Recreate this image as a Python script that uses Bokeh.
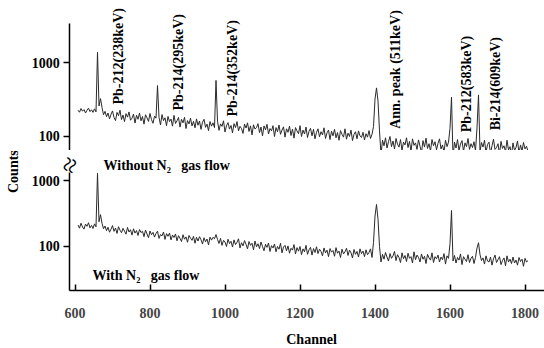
import math
from bokeh.plotting import figure
from bokeh.layouts import column
from bokeh.models import Label, FixedTicker, PrintfTickFormatter, Range1d
from bokeh.embed import file_html
from bokeh.resources import INLINE

# ---------------- data ----------------
channels = list(range(608, 1809, 4))

counts_without_n2 = [
    226, 212, 238, 219, 230, 207, 225, 241, 216, 229,    # 608-644
    211, 236, 214, 1390, 258, 325, 246, 196, 218, 184,   # 648-684
    207, 172, 198, 221, 180, 163, 211, 190, 226, 168,    # 688-724
    194, 158, 203, 182, 214, 165, 176, 200, 151, 193,    # 728-764
    170, 207, 162, 185, 146, 196, 178, 159, 204, 168,    # 768-804
    150, 188, 176, 490, 181, 142, 197, 163, 178, 139,    # 808-844
    186, 158, 171, 137, 192, 149, 162, 180, 133, 170,    # 848-884
    152, 181, 127, 163, 147, 176, 138, 159, 130, 172,    # 888-924
    141, 161, 124, 155, 170, 132, 146, 119, 158, 137,    # 928-964
    152, 131, 575, 160, 120, 147, 136, 162, 114, 139,    # 968-1004
    153, 125, 140, 111, 148, 131, 158, 118, 136, 127,    # 1008-1044
    109, 146, 129, 152, 116, 138, 104, 143, 125, 131,    # 1048-1084
    148, 112, 133, 101, 138, 122, 145, 107, 127, 118,    # 1088-1124
    139, 99, 131, 115, 142, 106, 121, 134, 97, 126,      # 1128-1164
    113, 137, 102, 125, 94, 131, 118, 108, 139, 99,      # 1168-1204
    121, 107, 133, 96, 117, 128, 101, 124, 92, 113,      # 1208-1244
    126, 98, 115, 104, 130, 93, 111, 121, 90, 117,       # 1248-1284
    101, 124, 95, 112, 88, 119, 106, 97, 126, 91,        # 1288-1324
    110, 99, 121, 87, 106, 115, 92, 118, 101, 96,        # 1328-1364
    113, 89, 108, 97, 119, 93, 106, 135, 320, 455,       # 1368-1404
    300, 118, 56, 88, 74, 95, 69, 84, 99, 72,            # 1408-1444
    86, 67, 93, 78, 71, 90, 64, 83, 76, 95,              # 1448-1484
    70, 85, 62, 92, 75, 81, 66, 89, 73, 60,              # 1488-1524
    87, 71, 94, 68, 79, 63, 90, 74, 84, 65,              # 1528-1564
    80, 92, 67, 76, 61, 88, 72, 83, 128, 340,            # 1568-1604
    52, 83, 69, 90, 64, 78, 87, 62, 81, 72,              # 1608-1644
    93, 66, 79, 70, 84, 63, 130, 365, 62, 82,            # 1648-1684
    71, 88, 60, 77, 83, 58, 74, 91, 66, 70,              # 1688-1724
    79, 57, 85, 68, 74, 61, 88, 65, 72, 56,              # 1728-1764
    81, 64, 70, 86, 59, 76, 63, 82, 67, 73,              # 1768-1804
    62,                                                  # 1808
]

counts_with_n2 = [
    212, 190, 226, 198, 184, 219, 203, 230, 192, 210,    # 608-644
    188, 221, 199, 1300, 238, 305, 226, 186, 205, 174,   # 648-684
    196, 165, 183, 208, 170, 191, 158, 200, 177, 162,    # 688-724
    189, 171, 154, 195, 166, 180, 149, 186, 160, 175,    # 728-764
    147, 181, 163, 170, 141, 178, 155, 136, 172, 151,    # 768-804
    164, 139, 158, 171, 133, 152, 145, 166, 128, 157,    # 808-844
    143, 160, 126, 149, 137, 155, 122, 146, 133, 119,    # 848-884
    151, 129, 140, 116, 147, 134, 124, 143, 112, 138,    # 888-924
    121, 141, 127, 109, 136, 118, 130, 106, 139, 125,    # 928-964
    138, 131, 152, 128, 111, 133, 104, 124, 117, 100,    # 968-1004
    129, 111, 120, 98, 126, 107, 116, 131, 95, 114,      # 1008-1044
    102, 123, 108, 92, 119, 104, 112, 89, 121, 99,       # 1048-1084
    110, 93, 117, 100, 86, 108, 97, 113, 84, 103,        # 1088-1124
    95, 109, 83, 100, 91, 112, 80, 98, 104, 86,          # 1128-1164
    102, 79, 94, 88, 107, 77, 96, 85, 100, 75,           # 1168-1204
    92, 83, 104, 76, 89, 97, 74, 93, 81, 99,             # 1208-1244
    78, 91, 84, 72, 95, 80, 88, 70, 93, 82,              # 1248-1284
    87, 71, 96, 79, 85, 68, 91, 77, 83, 94,              # 1288-1324
    73, 88, 80, 67, 90, 76, 84, 69, 92, 78,              # 1328-1364
    85, 70, 89, 75, 81, 92, 68, 115, 290, 436,           # 1368-1404
    260, 100, 58, 76, 64, 81, 69, 60, 78, 66,            # 1408-1444
    72, 84, 61, 75, 68, 57, 80, 65, 73, 59,              # 1448-1484
    79, 66, 70, 56, 83, 63, 74, 68, 58, 77,              # 1488-1524
    64, 71, 55, 76, 67, 62, 80, 57, 70, 65,              # 1528-1564
    74, 58, 69, 63, 78, 54, 72, 66, 110, 353,            # 1568-1604
    60, 73, 56, 68, 62, 77, 53, 70, 64, 59,              # 1608-1644
    75, 57, 66, 71, 55, 68, 95, 114, 75, 61,             # 1648-1684
    67, 54, 72, 60, 58, 69, 52, 65, 74, 57,              # 1688-1724
    63, 70, 53, 61, 67, 51, 72, 58, 64, 55,              # 1728-1764
    69, 56, 62, 52, 68, 59, 64, 50, 66, 58,              # 1768-1804
    61,                                                  # 1808
]

x_ticks = [600, 800, 1000, 1200, 1400, 1600, 1800]
y_ticks = [100, 1000]

peak_labels = ["Pb-212(238keV)", "Pb-214(295keV)", "Pb-214(352keV)",
               "Ann. peak (511keV)", "Pb-212(583keV)", "Bi-214(609keV)"]
peak_label_x = [716, 876, 1019, 1454, 1645, 1722]
peak_label_y = [270, 224, 185, 126, 113, 120]

FONT = "Liberation Serif"
LINE = "#2a2a2a"
SPINE_X = 586.1          # channel at which the left axis line sits
X_START, X_END = 401.3, 1852
X_AXIS_Y = 21.4          # count level at which the channel axis sits


def style(p, bounds):
    p.grid.visible = False
    p.outline_line_color = None
    p.background_fill_color = "white"
    p.border_fill_color = "white"
    ax = p.yaxis[0]
    ax.fixed_location = SPINE_X
    ax.bounds = bounds
    ax.ticker = FixedTicker(ticks=y_ticks, minor_ticks=[])
    ax.formatter = PrintfTickFormatter(format="%d")
    ax.major_tick_in = 0
    ax.major_tick_out = 6
    ax.minor_tick_in = 0
    ax.minor_tick_out = 0
    ax.axis_line_width = 1.5
    ax.axis_line_color = "black"
    ax.major_tick_line_width = 1.5
    ax.major_tick_line_color = "black"
    ax.major_label_text_font = FONT
    ax.major_label_text_font_style = "bold"
    ax.major_label_text_font_size = "14px"
    ax.major_label_text_color = "black"
    ax.major_label_standoff = 4


def label(p, x, y, text, **kw):
    opts = dict(text_align="left", text_baseline="alphabetic",
                text_font=FONT, text_font_style="bold",
                text_font_size="14px", text_color="black")
    opts.update(kw)
    p.add_layout(Label(x=x, y=y, text=text, **opts))


top = figure(width=544, height=150, x_range=Range1d(X_START, X_END),
             y_range=Range1d(63.8, 7063), y_axis_type="log",
             x_axis_location=None, toolbar_location=None, output_backend="svg",
             min_border_left=0, min_border_right=0, min_border_top=0,
             min_border_bottom=0)
style(top, (63.8, 3430))
top.line(channels, counts_without_n2, line_color=LINE, line_width=1)

for t, lx, ly in zip(peak_labels, peak_label_x, peak_label_y):
    label(top, lx, ly, t, angle=math.pi / 2, text_baseline="middle")

bottom = figure(width=544, height=198, x_range=top.x_range,
                y_range=Range1d(2.80, 2891), y_axis_type="log",
                toolbar_location=None, output_backend="svg",
                min_border_left=0, min_border_right=0, min_border_top=0,
                min_border_bottom=0)
style(bottom, (X_AXIS_Y, 1337))
bottom.line(channels, counts_with_n2, line_color=LINE, line_width=1)

xa = bottom.xaxis[0]
xa.fixed_location = X_AXIS_Y
xa.bounds = (SPINE_X, X_END)
xa.ticker = FixedTicker(ticks=x_ticks, minor_ticks=[])
xa.major_tick_in = 6
xa.major_tick_out = 0
xa.minor_tick_in = 0
xa.minor_tick_out = 0
xa.axis_line_width = 1.5
xa.axis_line_color = "black"
xa.major_tick_line_width = 1.5
xa.major_tick_line_color = "black"
xa.major_label_text_font = FONT
xa.major_label_text_font_style = "bold"
xa.major_label_text_font_size = "14px"
xa.major_label_standoff = 18

label(bottom, 1230.7, 3.9, "Channel", text_align="center")
label(bottom, 676, 1711, "Without N\u2082\u2002 gas flow")
label(bottom, 646.5, 36.2, "With N\u2082\u2002 gas flow")
label(bottom, 434.7, 1380, "Counts", angle=math.pi / 2,
      text_align="center", text_baseline="middle")
label(bottom, SPINE_X, 1750, "\u2248", angle=1.2, text_align="center",
      text_baseline="middle", text_font_style="normal",
      text_font_size="28px")

layout = column(top, bottom, spacing=0)
open("out.html", "w").write(file_html(layout, INLINE))
